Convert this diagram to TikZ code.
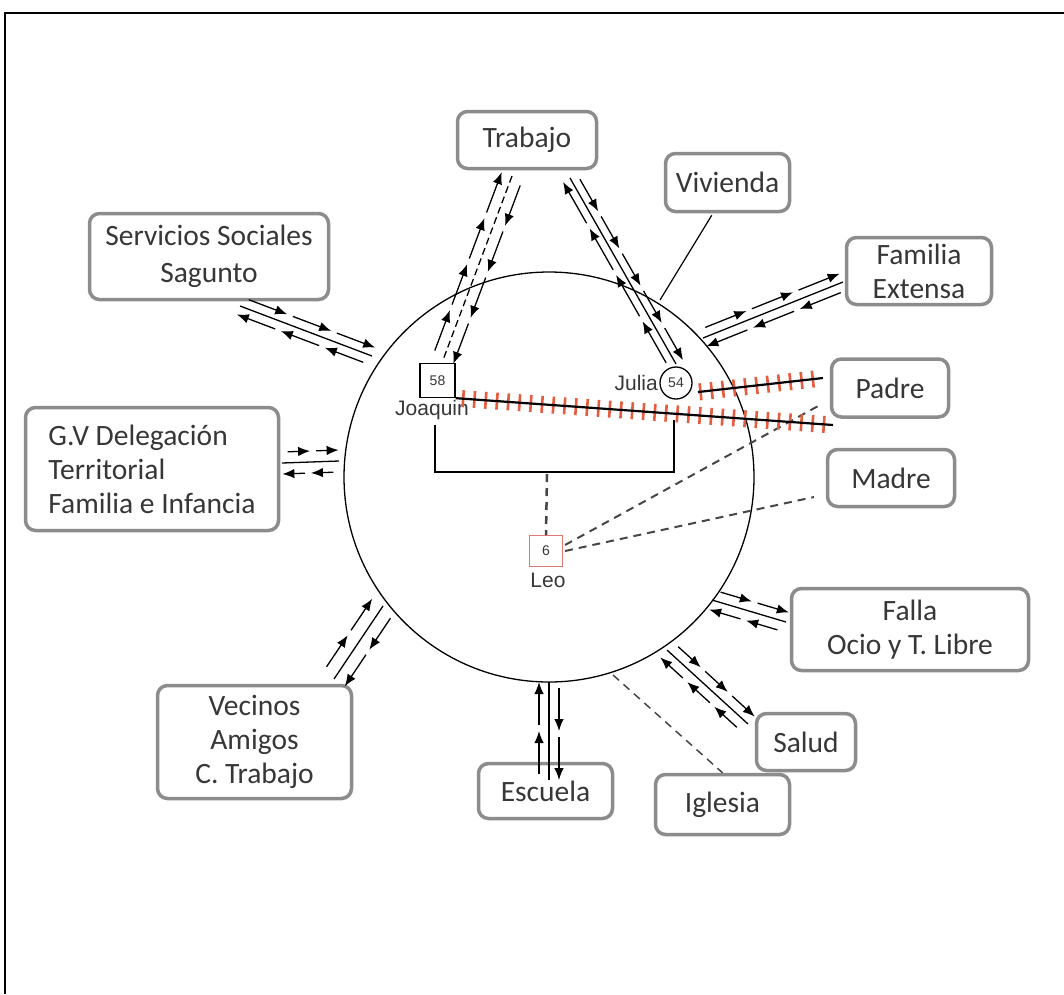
\documentclass[tikz,border=0pt]{standalone}
\usepackage{fontspec}
\setmainfont{Carlito}
\newfontfamily\arialf{Liberation Sans}
\usetikzlibrary{arrows.meta,calc,decorations.markings}

\definecolor{boxgray}{RGB}{140,140,140}
\definecolor{txtgray}{RGB}{55,55,55}
\definecolor{conflictred}{RGB}{230,92,62}
\definecolor{leored}{RGB}{225,120,115}
\definecolor{kingray}{RGB}{70,70,70}

\newcommand\ecofont{\fontsize{29.5}{34}\selectfont}
\newcommand\persfont{\arialf\fontsize{21}{24}\selectfont}
\newcommand\agefont{\arialf\fontsize{14}{16}\selectfont}

% three parallel lines between #1 (outer end) and #2 (inner end):
% #3 offset, #4 arrow segments towards #2, #5 arrow segments towards #1, #6 middle line style
\newcommand\ecoflow[6]{%
  \draw[#6] (#1) -- (#2);
  \coordinate (fa) at ($(#1)!#3pt!90:(#2)$);
  \coordinate (fb) at ($(#2)!#3pt!-90:(#1)$);
  \foreach \k in {1,...,#4}{%
    \coordinate (fs) at ($(fa)!{(\k-1)/#4}!(fb)$);
    \draw[flowseg] ($(fs)!6pt!(fb)$) -- ($(fa)!{\k/#4}!(fb)$);}
  \coordinate (ga) at ($(#1)!#3pt!-90:(#2)$);
  \coordinate (gb) at ($(#2)!#3pt!90:(#1)$);
  \foreach \k in {1,...,#5}{%
    \coordinate (gs) at ($(gb)!{(\k-1)/#5}!(ga)$);
    \draw[flowseg] ($(gs)!6pt!(ga)$) -- ($(gb)!{\k/#5}!(ga)$);}
}

\begin{document}
\begin{tikzpicture}[x=1pt,y=-1pt,
  ecobox/.style={draw=boxgray, line width=3.5pt, rounded corners=10pt, fill=white,
    inner sep=0pt, align=center, text=txtgray, font=\ecofont},
  flowseg/.style={line width=1.3pt, -{Latex[length=12pt,width=9.5pt]}},
  tie/.style={line width=1.3pt},
  weak/.style={line width=1.3pt, dash pattern=on 7pt off 4pt},
  kindash/.style={kingray, line width=2pt, dash pattern=on 8pt off 6pt},
  conflictline/.style={line width=2.2pt,
    preaction={decorate, decoration={markings,
      mark=between positions 0.02 and 0.99 step 11.3pt with
        {\draw[conflictred, line width=2.6pt] (0,-8.5pt) -- (0,8.5pt);}}}},
  person/.style={draw, line width=1.3pt, inner sep=0pt, text=txtgray, font=\agefont},
  plabel/.style={text=txtgray, font=\persfont, inner sep=0pt}
]
\useasboundingbox (0,0) rectangle (1064,994);
\fill[white] (0,0) rectangle (1064,994);

% page frame
\draw[line width=2pt] (4.5,994) -- (4.5,12.5) -- (1064,12.5);

% household circle
\node[circle, draw, line width=1.3pt, minimum size=410pt, inner sep=0pt] (eco) at (549,477) {};

% external systems
\node[ecobox, minimum width=139pt, minimum height=57pt] (trabajo) at (527,140) {Trabajo};
\node[ecobox, minimum width=124pt, minimum height=58pt] (vivienda) at (727.5,182.5) {Vivienda};
\node[ecobox, minimum width=239pt, minimum height=86pt, font=\fontsize{29.5}{37}\selectfont] (servicios) at (209,256.5) {Servicios Sociales\\Sagunto};
\node[ecobox, minimum width=145pt, minimum height=67pt] (extensa) at (919,271) {Familia\\Extensa};
\node[ecobox, minimum width=117pt, minimum height=58pt] (padre) at (890,388) {Padre};
\node[ecobox, minimum width=253pt, minimum height=123pt, align=left] (gv) at (152,469)
  {G.V Delegación\\Territorial\\Familia e Infancia};
\node[ecobox, minimum width=127pt, minimum height=57pt] (madre) at (891,478) {Madre};
\node[ecobox, minimum width=237pt, minimum height=82pt] (falla) at (910,629.5) {Falla\\Ocio y T. Libre};
\node[ecobox, minimum width=99pt, minimum height=57pt] (salud) at (806,742) {Salud};
\node[ecobox, minimum width=194pt, minimum height=113pt] (vecinos) at (254.5,742) {Vecinos\\Amigos\\C. Trabajo};
\node[ecobox, minimum width=134pt, minimum height=55pt] (escuela) at (545.5,791) {Escuela};
\node[ecobox, minimum width=134pt, minimum height=60pt] (iglesia) at (722.5,804.5) {Iglesia};

% family members
\node[person, minimum width=35pt, minimum height=34pt] (joaquin) at (437.5,380.5) {58};
\node[plabel] (joaquinlbl) at (432,410) {Joaquin};
\node[person, circle, minimum size=32pt] (julia) at (676,383) {54};
\node[plabel, anchor=east] (julialbl) at (658,383) {Julia};
\node[person, draw=leored, line width=1pt, minimum width=33pt, minimum height=31pt] (leo) at (546,551) {6};
\node[plabel] (leolbl) at (548,580) {Leo};

% couple bracket and child link
\coordinate (brL) at (435,425);
\coordinate (brR) at (674,420);
\draw[line width=1.5pt] (brL) -- (435,472) -- (674,472) -- (brR);
\draw[kindash, line width=2.5pt] (547,474) -- (leo.north);

% links from the child to the biological parents
\coordinate (padreL) at (820,405);
\coordinate (madreL) at (814,497);
\draw[kindash] ($(leo.east)+(2,-6)$) -- (padreL);
\draw[kindash] ($(leo.east)+(2,0)$) -- (madreL);

% conflict lines with the father
\coordinate (padreJo) at (833,425);
\coordinate (padreJu) at (823,378);
\coordinate (juliaC) at (698,392);
\draw[conflictline] (joaquin.south east) -- (padreJo);
\draw[conflictline] (juliaC) -- (padreJu);

% plain and weak single links
\coordinate (vivC) at (660,300);
\draw[line width=1.2pt] ($(vivienda.south west)+(48,2)$) -- (vivC);
\coordinate (iglC) at (613,675);
\draw[kindash, line width=1.5pt] (iglC) -- (iglesia.north);

% flows of exchange
\coordinate (tjB) at (512,176);  \coordinate (tjC) at (443,360);
\ecoflow{tjB}{tjC}{11}{4}{4}{weak}
\coordinate (tuB) at (570,178);  \coordinate (tuC) at (676,364);
\ecoflow{tuB}{tuC}{8}{5}{4}{tie}
\coordinate (ssB) at (240,306);  \coordinate (ssC) at (372,356);
\ecoflow{ssB}{ssC}{9}{3}{3}{tie}
\coordinate (gvB) at (282,463);  \coordinate (gvC) at (339,461);
\ecoflow{gvB}{gvC}{11}{2}{2}{tie}
\coordinate (feB) at (843,282);  \coordinate (feC) at (703,338);
\ecoflow{feB}{feC}{9}{3}{3}{tie}
\coordinate (veB) at (334,679);  \coordinate (veC) at (383,606);
\ecoflow{veB}{veC}{13}{2}{2}{tie}
\coordinate (esB) at (549,780);  \coordinate (esC) at (549,682);
\ecoflow{esB}{esC}{10}{2}{2}{tie}
\coordinate (faB) at (786,622);  \coordinate (faC) at (712,600);
\ecoflow{faB}{faC}{10}{2}{2}{tie}
\coordinate (saB) at (748,724);  \coordinate (saC) at (667,650);
\ecoflow{saB}{saC}{10}{3}{3}{tie}
\end{tikzpicture}
\end{document}
